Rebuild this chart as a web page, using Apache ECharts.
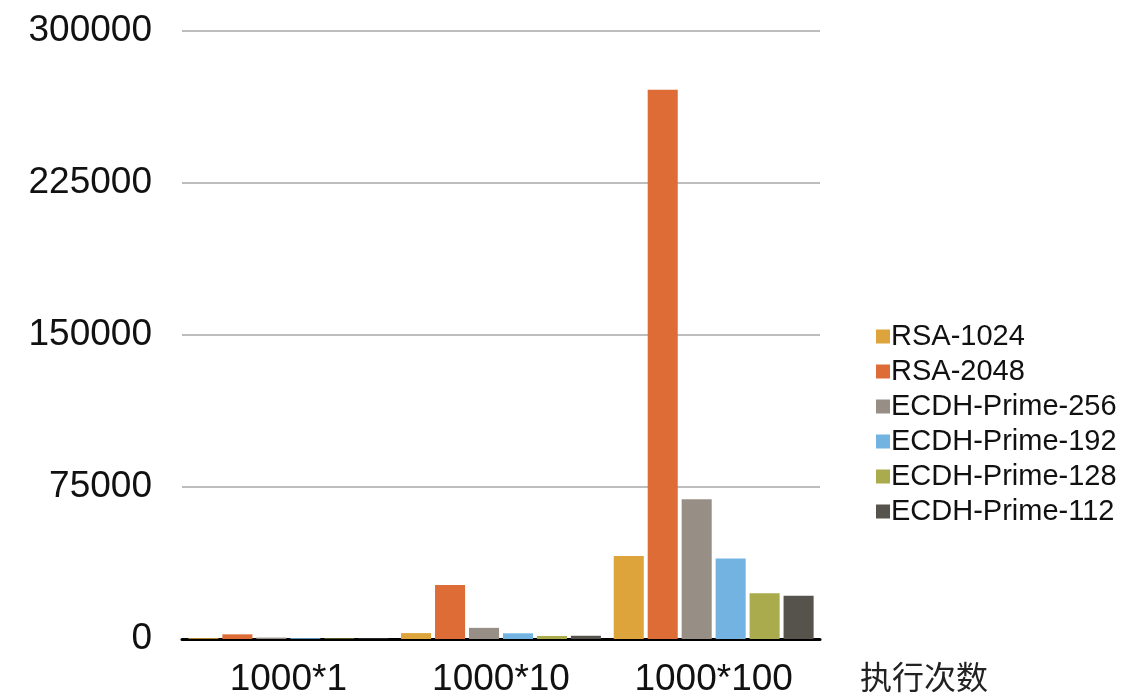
<!DOCTYPE html>
<html>
<head>
<meta charset="utf-8">
<title>执行次数对比</title>
<script src="https://cdn.jsdelivr.net/npm/echarts@6/dist/echarts.min.js"></script>
<style>
  html, body { margin: 0; padding: 0; background: #fff; }
  #chart { width: 1145px; height: 695px; }
</style>
</head>
<body>
<div id="chart"></div>
<script>
// Execution-count categories and y-axis scale
const categories = ['1000*1', '1000*10', '1000*100'];
const yTicks = [0, 75000, 150000, 225000, 300000];

// Timings per algorithm, one value per category
const rsa1024  = [400, 2900, 41000];
const rsa2048  = [2300, 26700, 271000];
const ecdh256  = [700, 5500, 69000];
const ecdh192  = [400, 2800, 39700];
const ecdh128  = [250, 1500, 22600];
const ecdh112  = [250, 1600, 21300];

const seriesDefs = [
  { name: 'RSA-1024', data: rsa1024, color: '#DCA43A' },
  { name: 'RSA-2048', data: rsa2048, color: '#DE6C37' },
  { name: 'ECDH-Prime-256', data: ecdh256, color: '#978F85' },
  { name: 'ECDH-Prime-192', data: ecdh192, color: '#72B3E1' },
  { name: 'ECDH-Prime-128', data: ecdh128, color: '#A9AB4D' },
  { name: 'ECDH-Prime-112', data: ecdh112, color: '#56534C' }
];

const font = "'Liberation Sans', Arial, sans-serif";
const chart = echarts.init(document.getElementById('chart'), null, { renderer: 'canvas' });

chart.setOption({
  animation: false,
  backgroundColor: '#ffffff',
  grid: {
    left: 182, right: 325, top: 31, bottom: 56,
    containLabel: false,
    outerBoundsMode: 'none'
  },
  legend: {
    orient: 'vertical',
    left: 871,
    top: 317,
    itemWidth: 14,
    itemHeight: 14,
    itemGap: 6,
    icon: 'rect',
    textStyle: { fontFamily: font, fontSize: 29, color: '#111', padding: [0, 0, 0, -4] },
    data: seriesDefs.map(s => s.name)
  },
  xAxis: {
    type: 'category',
    data: categories,
    name: '执行次数',
    nameLocation: 'end',
    nameGap: 40,
    nameTextStyle: {
      fontFamily: "'Noto Sans CJK SC', sans-serif",
      fontSize: 32,
      color: '#222',
      align: 'left',
      verticalAlign: 'top',
      padding: [22, 0, 0, 0]
    },
    axisLine: { show: true, lineStyle: { color: '#000', width: 3 } },
    axisTick: { show: false },
    axisLabel: { fontFamily: font, fontSize: 37, color: '#111', margin: 22 },
    splitLine: { show: false }
  },
  yAxis: {
    type: 'value',
    min: yTicks[0],
    max: yTicks[yTicks.length - 1],
    interval: yTicks[1] - yTicks[0],
    axisLine: { show: false },
    axisTick: { show: false },
    axisLabel: {
      fontFamily: font,
      fontSize: 37,
      color: '#111',
      margin: 30,
      formatter: v => String(v)
    },
    splitLine: { show: true, lineStyle: { color: '#bdbdbd', width: 2 } }
  },
  series: seriesDefs.map(s => ({
    name: s.name,
    type: 'bar',
    data: s.data,
    barGap: '13%',
    barCategoryGap: '6%',
    itemStyle: { color: s.color }
  }))
});
</script>
</body>
</html>
